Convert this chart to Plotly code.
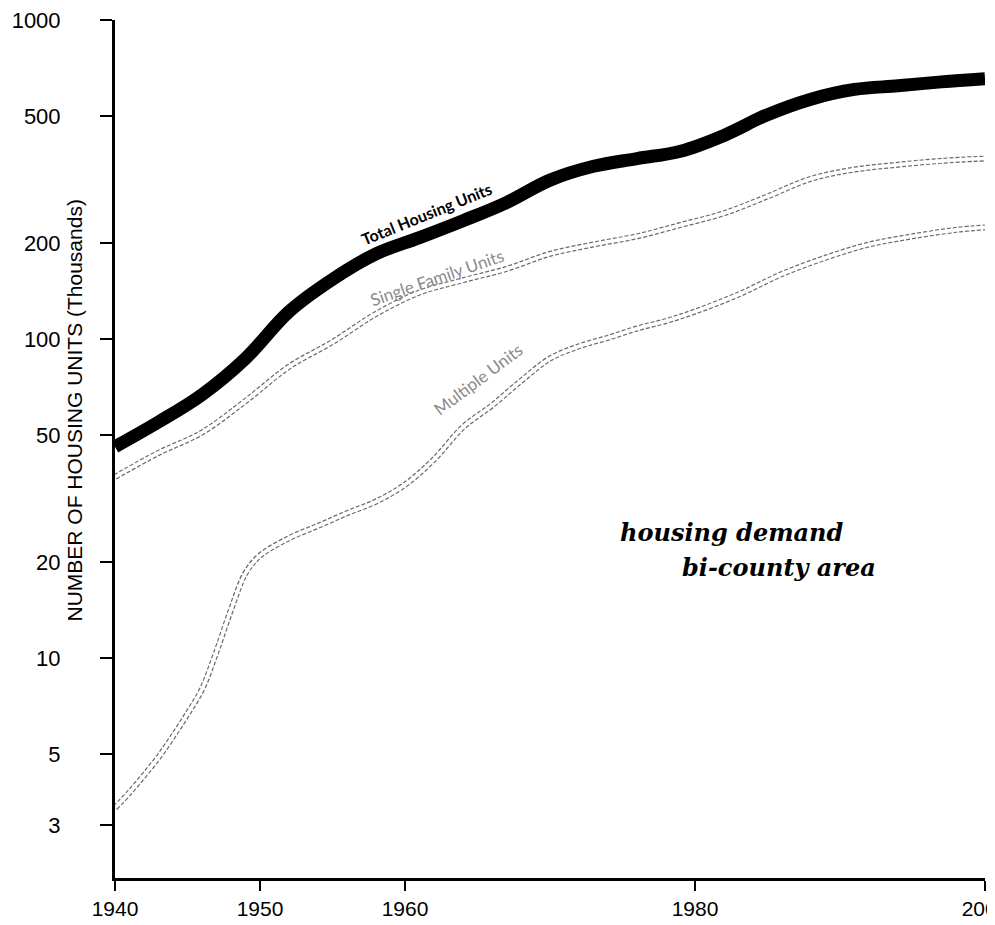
"""Housing demand, bi-county area: total, single-family and multiple units on a log scale, 1940-2000."""
import numpy as np
import plotly.graph_objects as go

# values (thousands of housing units)
total_years = [1940, 1943, 1946, 1949, 1952, 1955, 1958, 1961, 1964, 1967, 1970,
               1973, 1976, 1979, 1982, 1985, 1988, 1991, 1994, 1997, 2000]
total_units = [46, 55, 67, 87, 122, 154, 185, 208, 235, 268, 315,
               348, 368, 388, 435, 505, 565, 606, 622, 640, 655]

single_years = [1940, 1943, 1946, 1949, 1952, 1955, 1958, 1961, 1964, 1967, 1970,
                1973, 1976, 1979, 1982, 1985, 1988, 1991, 1994, 1997, 2000]
single_units = [37, 44, 51, 64, 82, 98, 120, 140, 153, 166, 185,
                198, 210, 228, 248, 280, 318, 340, 352, 362, 368]

multi_years = [1940, 1941, 1942, 1943, 1944, 1945, 1946, 1947, 1948, 1949, 1950,
               1952, 1954, 1956, 1958, 1960, 1962, 1964, 1966, 1968, 1970, 1972,
               1974, 1976, 1978, 1980, 1983, 1986, 1989, 1992, 1995, 1998, 2000]
multi_units = [3.4, 3.8, 4.3, 4.9, 5.7, 6.7, 8.0, 10.5, 14.2, 18.5, 21,
               23.8, 26, 28.5, 31, 35, 42, 53, 62, 74, 87, 95,
               101, 108, 114, 122, 138, 160, 180, 198, 210, 220, 224]

x_ticks = [1940, 1950, 1960, 1980, 2000]
y_ticks = [3, 5, 10, 20, 50, 100, 200, 500, 1000]

SANS = "Liberation Sans, Arial, sans-serif"

fig = go.Figure()

# hollow "double line" series: dashed grey outline with a white core
for xs, ys in [(single_years, single_units), (multi_years, multi_units)]:
    fig.add_trace(go.Scatter(x=xs, y=ys, mode="lines", hoverinfo="skip",
                             line=dict(color="#6a6a6a", width=6, dash="4px,2px",
                                       shape="spline", smoothing=1)))
    fig.add_trace(go.Scatter(x=xs, y=ys, mode="lines", hoverinfo="skip",
                             line=dict(color="white", width=3.6, shape="spline", smoothing=1)))

fig.add_trace(go.Scatter(x=total_years, y=total_units, mode="lines",
                         line=dict(color="black", width=13, shape="spline", smoothing=1)))

# curve labels (annotation y is in log10 units on a log axis)
fig.add_annotation(x=1961.5, y=2.393, text="<b>Total Housing Units</b>", showarrow=False,
                   textangle=-22, font=dict(family="Lato, sans-serif", size=16, color="black"))
fig.add_annotation(x=1962.2, y=2.194, text="Single Family Units", showarrow=False,
                   textangle=-19, font=dict(family="Lato, sans-serif", size=17, color="#8a8a8a"))
fig.add_annotation(x=1965.0, y=1.875, text="Multiple Units", showarrow=False,
                   textangle=-37, font=dict(family="Lato, sans-serif", size=17, color="#8a8a8a"))

# chart caption
fig.add_annotation(xref="paper", yref="paper", x=0.578, y=0.403, xanchor="left", yanchor="middle",
                   text="<b><i>housing demand</i></b>", showarrow=False,
                   font=dict(family="DejaVu Serif, serif", size=24, color="black"))
fig.add_annotation(xref="paper", yref="paper", x=0.649, y=0.362, xanchor="left", yanchor="middle",
                   text="<b><i>bi-county area</i></b>", showarrow=False,
                   font=dict(family="DejaVu Serif, serif", size=24, color="black"))

# y title sits between the tick labels and the axis
fig.add_annotation(xref="paper", yref="paper", x=-0.047, y=0.545, xanchor="center", yanchor="middle",
                   text="NUMBER OF HOUSING UNITS (Thousands)", showarrow=False, textangle=-90,
                   font=dict(family=SANS, size=21, color="black"))

# the page body adds an 8px offset, so the figure is 8px smaller and margins are shifted
fig.update_layout(
    width=987, height=917,
    margin=dict(l=107, r=10, t=12, b=47),
    paper_bgcolor="white", plot_bgcolor="white",
    showlegend=False,
    xaxis=dict(range=[1940, 2000], tickvals=x_ticks, ticktext=[str(v) for v in x_ticks],
               automargin=False, ticklabeloverflow="allow",
               showgrid=False, zeroline=False, showline=True, linecolor="black", linewidth=2.5,
               ticks="outside", ticklen=10, tickwidth=2, tickcolor="black",
               tickfont=dict(family=SANS, size=21, color="black")),
    yaxis=dict(type="log", range=[np.log10(2.05), 3], tickvals=y_ticks,
               ticktext=[str(v) for v in y_ticks], automargin=False,
               showgrid=False, zeroline=False, showline=True, linecolor="black", linewidth=3,
               ticks="outside", ticklen=12, tickwidth=2, tickcolor="black",
               ticklabelstandoff=35, ticklabeloverflow="allow",
               tickfont=dict(family=SANS, size=22, color="black")),
)

fig.write_html("out.html")
